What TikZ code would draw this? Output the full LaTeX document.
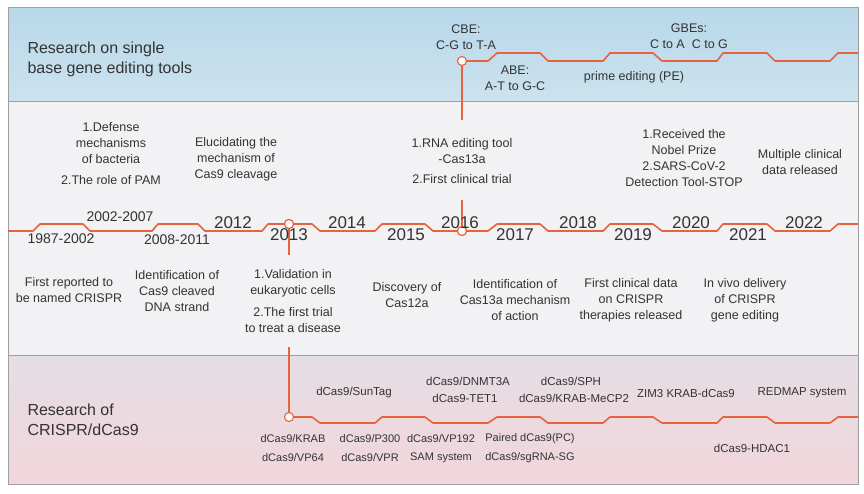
\documentclass[tikz,border=0pt]{standalone}
\usepackage{fontspec}
\setmainfont{Liberation Sans}
\definecolor{crisprline}{HTML}{E8623E}
\definecolor{txt}{HTML}{333333}
\definecolor{blueA}{HTML}{B8D8EA}
\definecolor{blueB}{HTML}{CCE2EE}
\definecolor{midbg}{HTML}{F2F2F4}
\definecolor{pinkA}{HTML}{E5DEE5}
\definecolor{pinkB}{HTML}{F1D6DB}
\begin{document}
\begin{tikzpicture}
  [x=1pt,y=-1pt,
  frame/.style={draw=gray!75,line width=1pt},
  tl/.style={draw=crisprline,line width=1.6pt,line join=round},
  stem/.style={draw=crisprline,line width=1.1pt},
  dot/.style={circle,draw=crisprline,fill=white,line width=1.1pt,inner sep=0pt,minimum size=9pt},
  ttl/.style={align=left,anchor=west,text=txt,font=\fontsize{16}{20}\selectfont},
  ev/.style={align=center,text=txt,font=\fontsize{12.5}{16}\selectfont},
  yr/.style={text=txt,font=\fontsize{17}{20}\selectfont},
  rng/.style={text=txt,font=\fontsize{14}{17}\selectfont},
  dc/.style={text=txt,font=\fontsize{11.5}{14}\selectfont},
  dcs/.style={text=txt,font=\fontsize{11}{14}\selectfont}]

  \useasboundingbox (0,0) rectangle (864,493);

  \shade[top color=blueA,bottom color=blueB] (8,7) rectangle (858,101);
  \fill[midbg] (8,101) rectangle (858,355);
  \shade[top color=pinkA,bottom color=pinkB] (8,355) rectangle (858,484);
  \draw[frame] (8,7) rectangle (858,484);
  \draw[frame] (8,101) -- (858,101);
  \draw[frame] (8,355) -- (858,355);

  \node[dot] (cbe) at (462,61) {};
  \node[dot] (y2013) at (289,224) {};
  \node[dot] (y2016) at (462,231) {};
  \node[dot] (krab) at (289,417) {};
  \coordinate (cbeend) at (462,120);
  \coordinate (rnaend) at (462,200);
  \coordinate (valtop) at (289,255);
  \coordinate (valend) at (289,347);

  \draw[stem] (cbe) -- (cbeend);
  \draw[stem] (rnaend) -- (y2016);
  \draw[stem] (y2013) -- (valtop);
  \draw[stem] (valend) -- (krab);

  \draw[tl] (cbe) -- (488,61) -- (497,53) -- (540,53) -- (548,61) -- (603,61) -- (610,53)
    -- (653,53) -- (662,61) -- (717,61) -- (723,53) -- (767,53) -- (775,61) -- (830,61)
    -- (838,53) -- (858,53);

  \draw[tl] (8,231) -- (33,231) -- (40,224) -- (83,224) -- (90,231) -- (152,231) -- (158,224)
    -- (198,224) -- (205,231) -- (262,231) -- (268,224) -- (312,224) -- (320,231) -- (375,231)
    -- (382,224) -- (425,224) -- (433,231) -- (488,231) -- (497,224) -- (540,224) -- (548,231)
    -- (603,231) -- (610,224) -- (653,224) -- (662,231) -- (717,231) -- (723,224) -- (767,224)
    -- (775,231) -- (830,231) -- (838,224) -- (858,224);

  \draw[tl] (krab) -- (312,417) -- (320,423) -- (375,423) -- (382,417) -- (425,417) -- (433,423)
    -- (488,423) -- (497,417) -- (540,417) -- (548,423) -- (603,423) -- (610,417) -- (653,417)
    -- (662,423) -- (717,423) -- (723,417) -- (767,417) -- (775,423) -- (830,423) -- (838,417)
    -- (858,417);

  \node[dot] at (y2013) {};
  \node[dot] at (y2016) {};

  \node[ttl] (single) at (24,59) {Research on single\\base gene editing tools};
  \node[ev] (cbetxt) at (466,37) {CBE:\\C-G to T-A};
  \node[ev] (abetxt) at (515,78) {ABE:\\A-T to G-C};
  \node[ev] (petxt) at (634,77) {prime editing (PE)};
  \node[ev] (gbetxt) at (689,36) {GBEs:\\C to A\ \ C to G};

  \node[rng] (r1987) at (61,239) {1987-2002};
  \node[rng] (r2002) at (120,217) {2002-2007};
  \node[rng] (r2008) at (177,240) {2008-2011};
  \node[yr] (t2012) at (233,223) {2012};
  \node[yr] (t2013) at (289,235) {2013};
  \node[yr] (t2014) at (347,223) {2014};
  \node[yr] (t2015) at (406,235) {2015};
  \node[yr] (t2016) at (460,223) {2016};
  \node[yr] (t2017) at (515,235) {2017};
  \node[yr] (t2018) at (578,223) {2018};
  \node[yr] (t2019) at (633,235) {2019};
  \node[yr] (t2020) at (691,223) {2020};
  \node[yr] (t2021) at (748,235) {2021};
  \node[yr] (t2022) at (804,223) {2022};

  \node[ev] (defense) at (111,154) {1.Defense\\mechanisms\\of bacteria\\[5pt]2.The role of PAM};
  \node[ev] (eluc) at (236,159) {Elucidating the\\mechanism of\\Cas9 cleavage};
  \node[ev] (rna) at (462,161) {1.RNA editing tool\\-Cas13a\\[4pt]2.First clinical trial};
  \node[ev] (nobel) at (684,158) {1.Received the\\Nobel Prize\\2.SARS-CoV-2\\Detection Tool-STOP};
  \node[ev] (multi) at (800,162) {Multiple clinical\\data released};

  \node[ev] (first) at (69,290) {First reported to\\be named CRISPR};
  \node[ev] (ident9) at (177,291) {Identification of\\Cas9 cleaved\\DNA strand};
  \node[ev] (valid) at (293,301) {1.Validation in\\eukaryotic cells\\[6pt]2.The first trial\\to treat a disease};
  \node[ev] (cas12) at (407,295) {Discovery of\\Cas12a};
  \node[ev] (ident13) at (515,300) {Identification of\\Cas13a mechanism\\of action};
  \node[ev] (clin) at (631,300) {First clinical data\\on CRISPR\\therapies released};
  \node[ev] (vivo) at (745,300) {In vivo delivery\\of CRISPR\\gene editing};

  \node[ttl] (dcas) at (24,420) {Research of\\CRISPR/dCas9};
  \node[dc] (suntag) at (354,393) {dCas9/SunTag};
  \node[dc] (dnmt) at (468,381) {dCas9/DNMT3A};
  \node[dc] (tet) at (465,398) {dCas9-TET1};
  \node[dc] (sph) at (571,381) {dCas9/SPH};
  \node[dc] (mecp) at (574,398) {dCas9/KRAB-MeCP2};
  \node[dc] (zim) at (686,393) {ZIM3 KRAB-dCas9};
  \node[dc] (redmap) at (802,393) {REDMAP system};
  \node[dcs] (krabtxt) at (293,439) {dCas9/KRAB};
  \node[dcs] (vp64) at (293,458) {dCas9/VP64};
  \node[dcs] (p300) at (370,439) {dCas9/P300};
  \node[dcs] (vpr) at (370,458) {dCas9/VPR};
  \node[dcs] (vp192) at (441,439) {dCas9/VP192};
  \node[dcs] (sam) at (441,458) {SAM system};
  \node[dcs] (paired) at (530,439) {Paired dCas9(PC)};
  \node[dcs] (sgrna) at (530,458) {dCas9/sgRNA-SG};
  \node[dc] (hdac) at (752,448) {dCas9-HDAC1};

\end{tikzpicture}
\end{document}
